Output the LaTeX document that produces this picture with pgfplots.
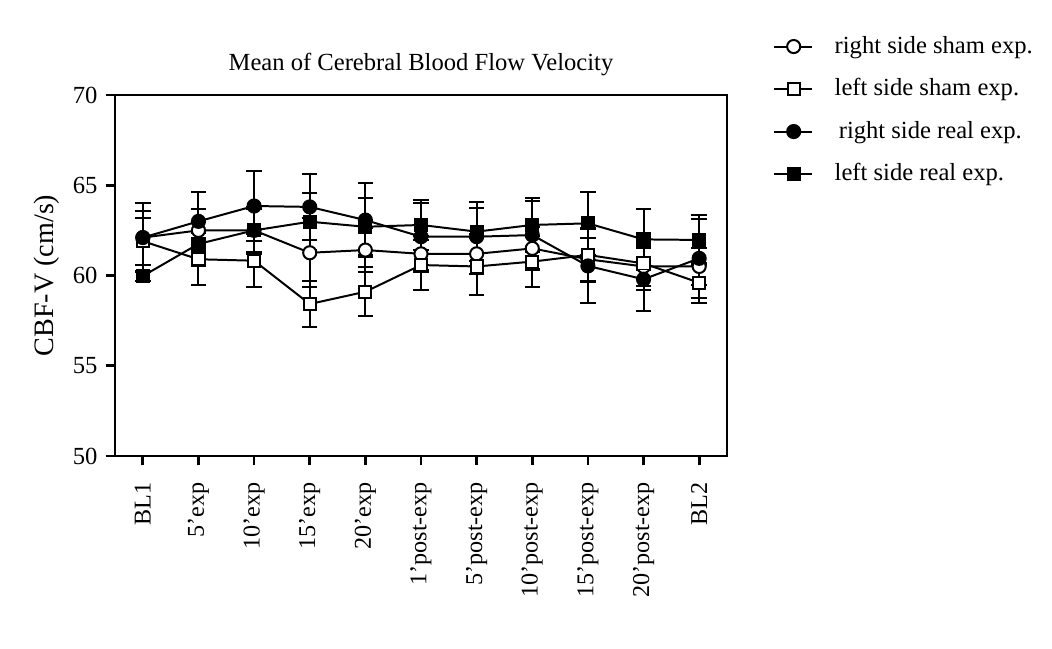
\documentclass[border=0pt]{standalone}
\usepackage{fontspec}
\setmainfont{Liberation Serif}
\usepackage{pgfplots}
\pgfplotsset{compat=1.18}
\usepackage{pgfplotstable}

% x = time point index, y = mean, e = error
\pgfplotstableread{
x y e
0 62.10 1.50
1 62.50 1.20
2 62.50 1.20
3 61.26 1.90
4 61.41 1.20
5 61.20 1.00
6 61.20 1.10
7 61.50 1.20
8 60.90 1.20
9 60.50 1.10
10 60.50 1.00
}\rightsham
\pgfplotstableread{
x y e
0 61.90 1.30
1 60.90 1.45
2 60.82 1.46
3 58.42 1.30
4 59.10 1.35
5 60.58 1.40
6 60.50 1.60
7 60.77 1.40
8 61.14 1.50
9 60.67 1.45
10 59.60 1.10
}\leftsham
\pgfplotstableread{
x y e
0 62.10 1.90
1 63.00 1.65
2 63.85 1.95
3 63.80 1.85
4 63.07 2.07
5 62.15 1.85
6 62.15 1.60
7 62.24 1.90
8 60.53 2.07
9 59.79 1.74
10 60.95 2.20
}\rightreal
\pgfplotstableread{
x y e
0 59.97 0.30
1 61.75 1.20
2 62.50 1.30
3 62.98 1.57
4 62.70 1.58
5 62.80 1.38
6 62.43 1.63
7 62.80 1.48
8 62.89 1.75
9 62.00 1.67
10 61.97 1.38
}\leftreal

\begin{document}
\begin{tikzpicture}
\begin{axis}[name=ax,
  scale only axis, width=9.18cm, height=5.415cm,
  xmin=-0.5, xmax=10.5, ymin=50, ymax=70,
  axis line style={line width=1.2pt},
  tick style={line width=1.2pt, black},
  major tick length=0.14cm,
  tick align=outside,
  xtick pos=bottom, ytick pos=left,
  xtick={0,...,10},
  xticklabels={BL1, 5’exp, 10’exp, 15’exp, 20’exp, 1’post-exp, 5’post-exp, 10’post-exp, 15’post-exp, 20’post-exp, BL2},
  xticklabel style={rotate=90, anchor=east, font=\fontsize{10.3}{12}\selectfont, inner xsep=7pt},
  ytick={50,55,...,70},
  yticklabel style={font=\fontsize{10.5}{12}\selectfont},
  /pgf/number format/assume math mode=true,
  ylabel={CBF-V (cm/s)},
  ylabel style={font=\fontsize{12}{14}\selectfont, yshift=-1pt},
  title={Mean of Cerebral Blood Flow Velocity},
  title style={font=\fontsize{10.5}{12}\selectfont, yshift=-0.05cm},
  legend style={at={(rel axis cs:1.075,1.177)}, anchor=north west, draw=none,
    font=\fontsize{10.5}{12.5}\selectfont, row sep=5.3pt, inner sep=0pt,
    legend cell align=left,
    /tikz/every odd column/.append style={column sep=0.25cm}},
  legend image code/.code={\draw[mark repeat=2,mark phase=2,#1]
    plot coordinates {(0cm,0cm) (0.29cm,0cm) (0.57cm,0cm)};},
  error bars/error bar style={line width=0.85pt, black},
  error bars/error mark options={rotate=90, mark size=3.3pt, line width=0.85pt, black},
]
\addplot[black, line width=0.85pt, mark=*, mark size=2.8pt,
  mark options={draw=black, fill=white, solid},
  error bars/.cd, y dir=both, y explicit]
  table[x=x, y=y, y error=e] {\rightsham};
\addlegendentry{right side sham exp.}
\addplot[black, line width=0.85pt, mark=square*, mark size=2.6pt,
  mark options={draw=black, fill=white, solid},
  error bars/.cd, y dir=both, y explicit]
  table[x=x, y=y, y error=e] {\leftsham};
\addlegendentry{left side sham exp.}
\addplot[black, line width=0.85pt, mark=*, mark size=2.8pt,
  mark options={draw=black, fill=black, solid},
  error bars/.cd, y dir=both, y explicit]
  table[x=x, y=y, y error=e] {\rightreal};
\addlegendentry{\,right side real exp.}
\addplot[black, line width=0.85pt, mark=square*, mark size=2.6pt,
  mark options={draw=black, fill=black, solid},
  error bars/.cd, y dir=both, y explicit]
  table[x=x, y=y, y error=e] {\leftreal};
\addlegendentry{left side real exp.}
\end{axis}
\pgfresetboundingbox
\path ([shift={(-1.725cm,-2.88cm)}]ax.south west) rectangle ([shift={(4.875cm,1.425cm)}]ax.north east);
\end{tikzpicture}
\end{document}
